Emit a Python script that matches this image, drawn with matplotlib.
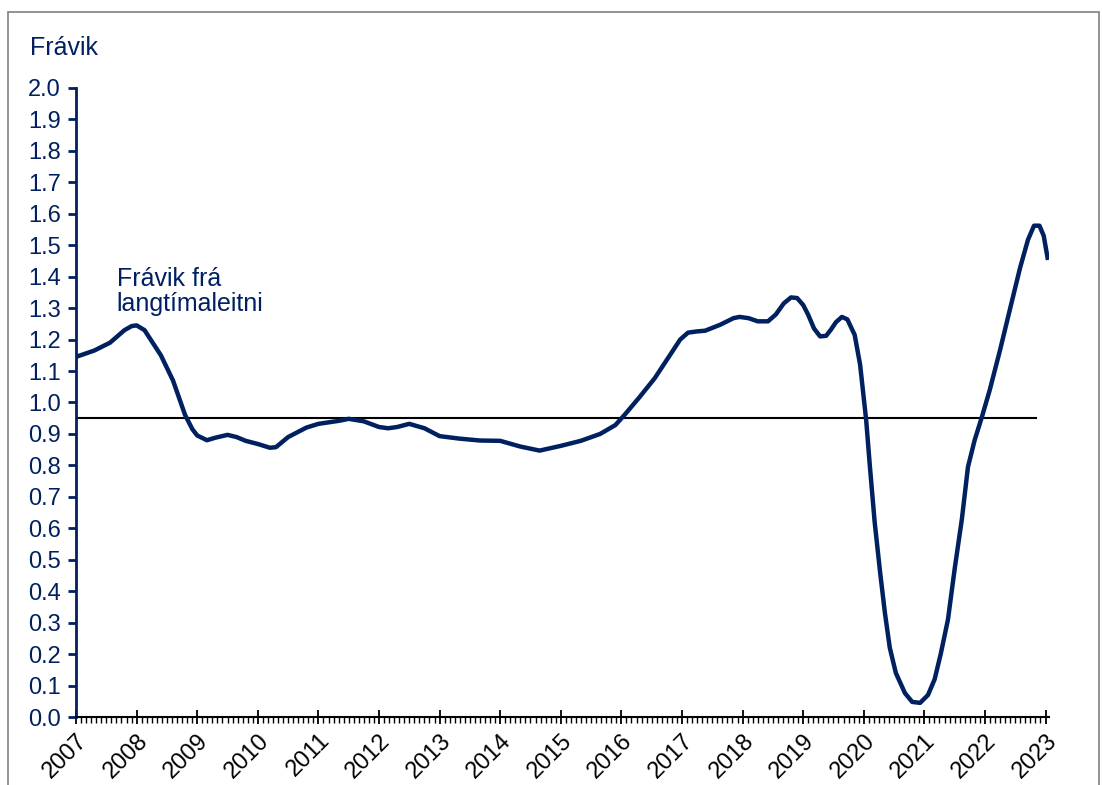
import matplotlib.pyplot as plt
from matplotlib.ticker import MultipleLocator, FormatStrFormatter
from matplotlib.patches import Rectangle

plt.rcParams['font.family'] = ['Liberation Sans', 'DejaVu Sans']

NAVY = '#002060'

# tími (ár) og frávik frá langtímaleitni
years = [2007.0, 2007.3, 2007.56, 2007.8, 2007.92, 2008.0, 2008.13, 2008.4, 2008.6, 2008.8,
         2008.92, 2009.0, 2009.16, 2009.3, 2009.5, 2009.65, 2009.8, 2010.0, 2010.2, 2010.3,
         2010.5, 2010.8, 2011.0, 2011.35, 2011.5, 2011.75, 2012.0, 2012.15, 2012.3,
         2012.5, 2012.75, 2013.0, 2013.33, 2013.67, 2014.0, 2014.33, 2014.65, 2015.0,
         2015.33, 2015.65, 2015.9, 2016.05, 2016.3, 2016.55, 2016.8, 2016.97, 2017.1,
         2017.25, 2017.38, 2017.63, 2017.85, 2017.95, 2018.1, 2018.25, 2018.42,
         2018.55, 2018.68, 2018.8, 2018.9, 2019.0, 2019.08, 2019.18, 2019.28, 2019.38,
         2019.46, 2019.54, 2019.64, 2019.73, 2019.85, 2019.94, 2020.04, 2020.1,
         2020.18, 2020.27, 2020.35, 2020.43, 2020.53, 2020.68, 2020.8, 2020.93,
         2021.06, 2021.17, 2021.27, 2021.39, 2021.5, 2021.62, 2021.72, 2021.83,
         2021.95, 2022.08, 2022.25, 2022.41, 2022.58, 2022.71, 2022.81, 2022.9,
         2022.97, 2023.04]
gap = [1.145, 1.165, 1.19, 1.23, 1.243, 1.245, 1.23, 1.15, 1.07, 0.96,
       0.915, 0.895, 0.88, 0.888, 0.897, 0.89, 0.878, 0.868, 0.856, 0.858,
       0.89, 0.92, 0.932, 0.942, 0.948, 0.94, 0.922, 0.918, 0.922,
       0.932, 0.918, 0.893, 0.885, 0.879, 0.878, 0.86, 0.847, 0.862,
       0.878, 0.90, 0.928, 0.96, 1.017, 1.077, 1.15, 1.20, 1.222,
       1.226, 1.228, 1.247, 1.268, 1.272, 1.268, 1.258, 1.258,
       1.28, 1.315, 1.334, 1.332, 1.31, 1.28, 1.235, 1.21, 1.212,
       1.232, 1.255, 1.272, 1.264, 1.215, 1.12, 0.944, 0.80,
       0.62, 0.46, 0.33, 0.22, 0.14, 0.076, 0.048, 0.045,
       0.07, 0.12, 0.20, 0.31, 0.47, 0.63, 0.795, 0.88,
       0.954, 1.04, 1.167, 1.294, 1.428, 1.517, 1.562, 1.562,
       1.53, 1.453]
ref_level = 0.95
ref_span = [2007.0, 2022.85]
year_ticks = list(range(2007, 2024))

fig = plt.figure(figsize=(11.02, 7.85), dpi=100)
ax = fig.add_axes([0.069, 0.0866, 0.8825, 0.8014])

ax.plot(ref_span, [ref_level, ref_level], color='black', lw=1.5, zorder=2)
ax.plot(years, gap, color=NAVY, lw=3.2, solid_capstyle='butt',
        solid_joinstyle='round', zorder=3)

ax.set_xlim(2007, 2023.05)
ax.set_ylim(0, 2.0)

ax.yaxis.set_major_locator(MultipleLocator(0.1))
ax.yaxis.set_major_formatter(FormatStrFormatter('%.1f'))
ax.set_xticks(year_ticks)
ax.set_xticklabels([str(y) for y in year_ticks], rotation=45, ha='right',
                   rotation_mode='anchor', fontsize=17)
ax.xaxis.set_minor_locator(MultipleLocator(1 / 12))

for s in ['top', 'right']:
    ax.spines[s].set_visible(False)
ax.spines['left'].set_color(NAVY)
ax.spines['left'].set_linewidth(2)
ax.spines['bottom'].set_color('black')
ax.spines['bottom'].set_linewidth(1.5)

ax.tick_params(axis='y', colors=NAVY, labelsize=17, length=6, width=2, pad=5)
ax.tick_params(axis='x', which='major', direction='inout', length=10, width=1.3,
               colors='black', pad=4)
ax.tick_params(axis='x', which='minor', direction='out', length=4, width=1, colors='black')

fig.text(0.027, 0.939, 'Frávik', fontsize=18, color=NAVY, va='center', ha='left')
ax.text(2007.67, 1.352, 'Frávik frá\nlangtímaleitni', fontsize=18, color=NAVY,
        va='center', ha='left', linespacing=1.05)

fig.patches.append(Rectangle((0.007, -0.1), 0.990, 1.085, transform=fig.transFigure,
                             fill=False, edgecolor='#808080', lw=1.2))

fig.savefig('out.png', dpi=100)
